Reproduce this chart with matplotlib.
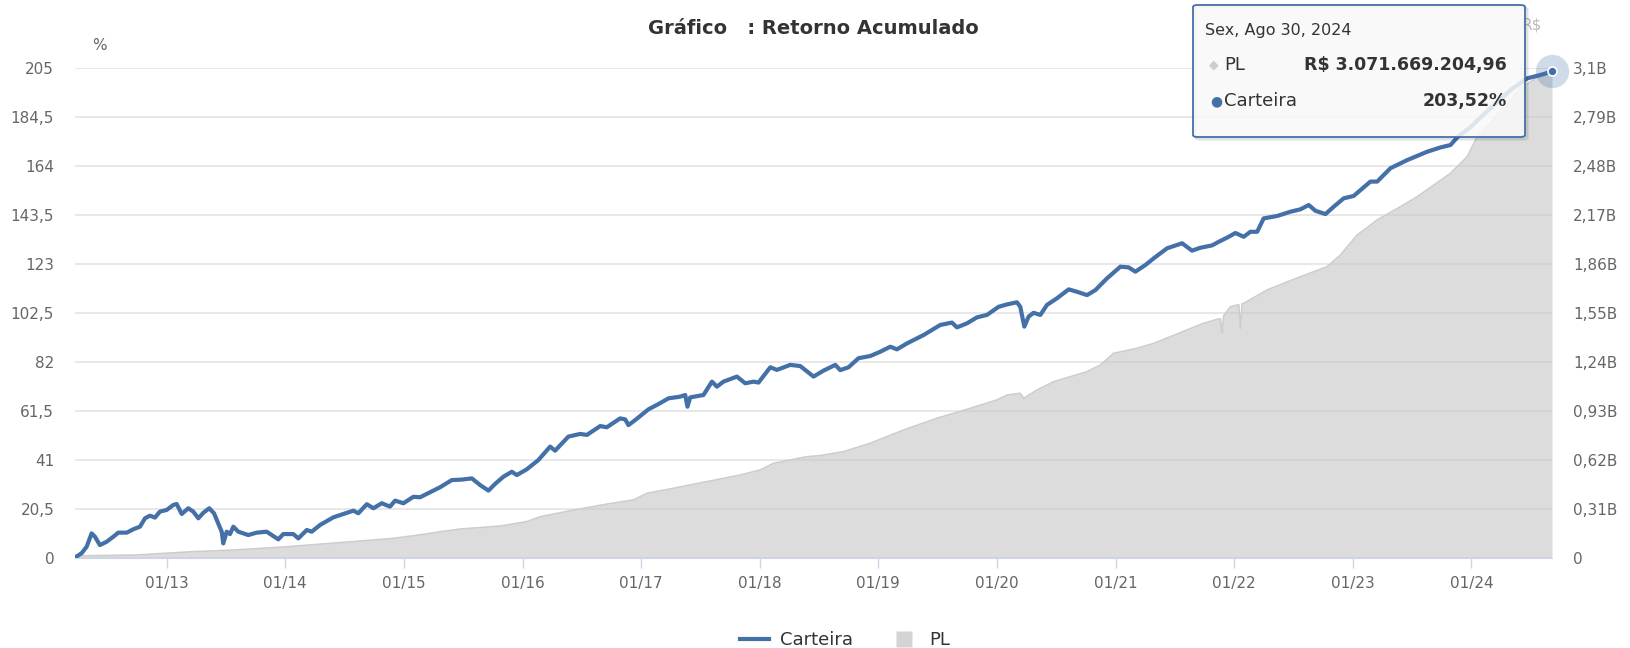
import matplotlib
matplotlib.use("Agg")
import matplotlib.pyplot as plt
from matplotlib.patches import FancyBboxPatch
from matplotlib.lines import Line2D

# Carteira: retorno acumulado (%) - datas em anos decimais
carteira_t = [2012.227, 2012.283, 2012.325, 2012.367, 2012.395, 2012.437, 2012.494, 2012.550, 2012.592, 2012.663,
              2012.718, 2012.775, 2012.817, 2012.859, 2012.901, 2012.943, 2013.000, 2013.056, 2013.084, 2013.127,
              2013.182, 2013.224, 2013.267, 2013.309, 2013.359, 2013.399, 2013.435, 2013.464, 2013.477, 2013.506,
              2013.534, 2013.562, 2013.604, 2013.646, 2013.688, 2013.759, 2013.843, 2013.899, 2013.941, 2013.983,
              2014.068, 2014.110, 2014.181, 2014.223, 2014.293, 2014.405, 2014.490, 2014.574, 2014.616, 2014.687,
              2014.743, 2014.813, 2014.883, 2014.926, 2014.996, 2015.080, 2015.136, 2015.193, 2015.305, 2015.404,
              2015.488, 2015.573, 2015.643, 2015.713, 2015.769, 2015.839, 2015.910, 2015.952, 2016.036, 2016.134,
              2016.233, 2016.275, 2016.387, 2016.486, 2016.543, 2016.655, 2016.711, 2016.823, 2016.866, 2016.893,
              2016.950, 2017.062, 2017.146, 2017.231, 2017.329, 2017.372, 2017.391, 2017.414, 2017.526, 2017.597,
              2017.639, 2017.695, 2017.808, 2017.878, 2017.948, 2017.990, 2018.089, 2018.145, 2018.257, 2018.342,
              2018.454, 2018.538, 2018.637, 2018.679, 2018.749, 2018.833, 2018.932, 2019.016, 2019.101, 2019.157,
              2019.242, 2019.382, 2019.522, 2019.621, 2019.663, 2019.748, 2019.832, 2019.916, 2020.014, 2020.085,
              2020.169, 2020.197, 2020.231, 2020.267, 2020.309, 2020.366, 2020.422, 2020.507, 2020.605, 2020.675,
              2020.760, 2020.830, 2020.928, 2021.041, 2021.111, 2021.167, 2021.252, 2021.322, 2021.435, 2021.561,
              2021.645, 2021.715, 2021.814, 2021.870, 2021.954, 2022.011, 2022.081, 2022.137, 2022.194, 2022.249,
              2022.362, 2022.475, 2022.559, 2022.629, 2022.685, 2022.770, 2022.840, 2022.924, 2023.008, 2023.149,
              2023.206, 2023.318, 2023.459, 2023.628, 2023.740, 2023.824, 2023.881, 2023.993, 2024.162, 2024.330,
              2024.471, 2024.611, 2024.680]
carteira_v = [0.0, 1.8, 4.5, 10.1, 8.7, 5.2, 6.6, 8.7, 10.4, 10.4,
              11.8, 12.9, 16.4, 17.5, 16.7, 19.2, 19.9, 22.0, 22.4, 18.2,
              20.6, 19.2, 16.4, 18.7, 20.6, 18.5, 14.3, 10.8, 5.9, 10.8,
              9.8, 12.9, 10.8, 10.1, 9.4, 10.4, 10.8, 9.0, 7.6, 9.8,
              9.8, 8.0, 11.5, 10.8, 13.6, 16.8, 18.2, 19.6, 18.5, 22.3,
              20.6, 22.7, 21.3, 23.8, 22.7, 25.4, 25.2, 26.6, 29.4, 32.4,
              32.6, 33.1, 30.3, 28.0, 30.8, 33.8, 35.9, 34.5, 36.9, 40.8,
              46.4, 44.7, 50.6, 51.7, 51.3, 55.0, 54.5, 58.2, 57.8, 55.4,
              57.5, 62.0, 64.2, 66.6, 67.3, 68.0, 63.1, 67.0, 68.0, 73.6,
              71.5, 73.6, 75.7, 72.9, 73.6, 73.2, 79.6, 78.5, 80.6, 80.1,
              75.7, 78.2, 80.6, 78.4, 79.6, 83.4, 84.3, 86.1, 88.2, 87.1,
              89.6, 93.1, 97.3, 98.3, 96.3, 98.0, 100.5, 101.5, 104.9, 105.9,
              106.8, 104.9, 96.6, 100.8, 102.4, 101.5, 105.7, 108.5, 112.2, 111.2,
              109.8, 111.9, 116.8, 121.7, 121.4, 119.6, 122.4, 125.2, 129.4, 131.5,
              128.4, 129.6, 130.6, 132.1, 134.2, 135.8, 134.2, 136.3, 136.3, 141.9,
              142.9, 144.7, 145.7, 147.5, 145.1, 143.7, 146.8, 150.3, 151.3, 157.3,
              157.3, 162.9, 166.3, 169.8, 171.6, 172.6, 175.8, 180.1, 188.1, 195.6,
              200.5, 202.3, 203.52]

# PL (bilhoes de R$)
pl_t = [2012.227, 2012.747, 2013.224, 2013.562, 2014.012, 2014.490, 2014.911, 2015.193, 2015.305, 2015.474,
        2015.811, 2016.036, 2016.149, 2016.429, 2016.711, 2016.936, 2017.049, 2017.273, 2017.555, 2017.836,
        2018.004, 2018.116, 2018.398, 2018.510, 2018.707, 2018.932, 2019.213, 2019.495, 2019.775, 2020.000,
        2020.085, 2020.197, 2020.225, 2020.338, 2020.478, 2020.760, 2020.872, 2020.984, 2021.182, 2021.322,
        2021.462, 2021.603, 2021.743, 2021.856, 2021.884, 2021.899, 2021.912, 2021.969, 2022.039, 2022.053,
        2022.067, 2022.081, 2022.278, 2022.559, 2022.784, 2022.896, 2023.037, 2023.206, 2023.403, 2023.543,
        2023.684, 2023.824, 2023.965, 2024.049, 2024.162, 2024.288, 2024.415, 2024.541, 2024.680]
pl_v = [0.010, 0.016, 0.037, 0.047, 0.068, 0.096, 0.121, 0.149, 0.163, 0.180,
        0.199, 0.227, 0.258, 0.300, 0.338, 0.364, 0.406, 0.438, 0.480, 0.522,
        0.554, 0.596, 0.638, 0.645, 0.670, 0.723, 0.807, 0.881, 0.944, 0.997,
        1.028, 1.039, 1.007, 1.060, 1.112, 1.176, 1.218, 1.292, 1.324, 1.355,
        1.397, 1.440, 1.482, 1.507, 1.510, 1.420, 1.530, 1.587, 1.600, 1.450,
        1.605, 1.608, 1.693, 1.777, 1.840, 1.914, 2.040, 2.136, 2.220, 2.283,
        2.357, 2.431, 2.536, 2.663, 2.750, 2.860, 2.970, 3.030, 3.0717]

ticks_pct = [0, 20.5, 41, 61.5, 82, 102.5, 123, 143.5, 164, 184.5, 205]
ticks_pl = [0, 0.31, 0.62, 0.93, 1.24, 1.55, 1.86, 2.17, 2.48, 2.79, 3.1]
anos = list(range(2013, 2025))

pl_final = 3071669204.96
carteira_final = 203.52
data_final = "Sex, Ago 30, 2024"

AZUL = "#4470a8"
W, H = 1631, 648


def fx(px):
    return px / W


def fy(py):
    return 1 - py / H


def br(v):
    return ("%g" % v).replace(".", ",")


fig = plt.figure(figsize=(W / 100, H / 100), dpi=100)
ax = fig.add_axes([fx(75), fy(557.5), (1552 - 75) / W, (557.5 - 67.6) / H])
ax2 = ax.twinx()
ax.set_zorder(ax2.get_zorder() + 1)
ax.patch.set_visible(False)

# PL area (eixo direito)
ax2.fill_between(pl_t, pl_v, 0, color="#c6c6c6", alpha=0.6, lw=0)
ax2.plot(pl_t, pl_v, color="#cdcdcd", lw=1.2)
ax2.set_ylim(0, 3.1)
ax2.set_yticks(ticks_pl)
ax2.set_yticklabels([br(v) + ("B" if v else "") for v in ticks_pl])
ax2.grid(axis="y", color="#e6e6e6", lw=1.3)
ax2.set_axisbelow(True)
ax2.tick_params(axis="y", length=0, pad=15, labelsize=11, labelcolor="#666666")

# Carteira
ax.plot(carteira_t, carteira_v, color=AZUL, lw=3.0, solid_joinstyle="round", zorder=3)
ax.plot(carteira_t[-1], carteira_v[-1], "o", ms=24, color=AZUL, alpha=0.25, mec="none", clip_on=False, zorder=4)
ax.plot(carteira_t[-1], carteira_v[-1], "o", ms=6.5, color=AZUL, mec="white", mew=1.2, clip_on=False, zorder=5)
ax.set_xlim(carteira_t[0], carteira_t[-1])
ax.set_ylim(0, 205)
ax.set_yticks(ticks_pct)
ax.set_yticklabels([br(v) for v in ticks_pct])
ax.set_xticks(anos)
ax.set_xticklabels(["01/%02d" % (a % 100) for a in anos])
ax.tick_params(axis="y", length=0, pad=15, labelsize=11, labelcolor="#666666")
ax.tick_params(axis="x", length=7, width=1, color="#ccd6eb", pad=6, labelsize=11, labelcolor="#666666")

for a in (ax, ax2):
    for s in a.spines.values():
        s.set_visible(False)
ax.spines["bottom"].set_visible(True)
ax.spines["bottom"].set_color("#ccd6eb")

fig.text(fx(813), fy(28), "Gráfico   : Retorno Acumulado", ha="center", va="center",
         fontsize=14, fontweight="bold", color="#333333")
fig.text(fx(99), fy(46), "%", ha="center", va="center", fontsize=11, color="#666666")
fig.text(fx(1532), fy(25), "R$", ha="center", va="center", fontsize=11, color="#bbbbbb")

# tooltip
x0, y0, x1, y1 = 1193, 5, 1525, 137
for k in (1, 2, 3):
    fig.patches.append(FancyBboxPatch((fx(x0 + k), fy(y1 + k)), (x1 - x0) / W, (y1 - y0) / H,
                                      boxstyle="round,pad=0,rounding_size=0.003", transform=fig.transFigure,
                                      fc="none", ec=(0, 0, 0, 0.07), lw=1.2, zorder=4))
fig.patches.append(FancyBboxPatch((fx(x0), fy(y1)), (x1 - x0) / W, (y1 - y0) / H,
                                  boxstyle="round,pad=0,rounding_size=0.003", transform=fig.transFigure,
                                  fc=(0.975, 0.975, 0.975, 0.85), ec=AZUL, lw=1.3, zorder=5))
fig.text(fx(1205), fy(31), data_final, ha="left", va="center", fontsize=11.5, color="#333333", zorder=6)
fig.text(fx(1214), fy(65), "◆", ha="center", va="center", fontsize=9, color="#cccccc", zorder=6)
fig.text(fx(1224), fy(65), "PL", ha="left", va="center", fontsize=13, color="#333333", zorder=6)
pl_txt = "R$ " + ("{:,.2f}".format(pl_final)).replace(",", "X").replace(".", ",").replace("X", ".")
fig.text(fx(1507), fy(65), pl_txt, ha="right", va="center", fontsize=12.5, fontweight="bold",
         color="#333333", zorder=6)
fig.text(fx(1216), fy(101), "●", ha="center", va="center", fontsize=10, color=AZUL, zorder=6)
fig.text(fx(1224), fy(101), "Carteira", ha="left", va="center", fontsize=13, color="#333333", zorder=6)
fig.text(fx(1507), fy(101), ("%.2f" % carteira_final).replace(".", ",") + "%", ha="right", va="center",
         fontsize=12.5, fontweight="bold", color="#333333", zorder=6)

handles = [Line2D([], [], color=AZUL, lw=3),
           Line2D([], [], ls="none", marker="s", ms=11, mfc="#d4d4d4", mec="none")]
fig.legend(handles, ["Carteira", "PL"], loc="center", bbox_to_anchor=(fx(845), fy(640)), ncol=2,
           frameon=False, fontsize=13, handlelength=1.6, columnspacing=2.0,
           handletextpad=0.6, labelcolor="#333333")

fig.savefig("out.png", dpi=100)
